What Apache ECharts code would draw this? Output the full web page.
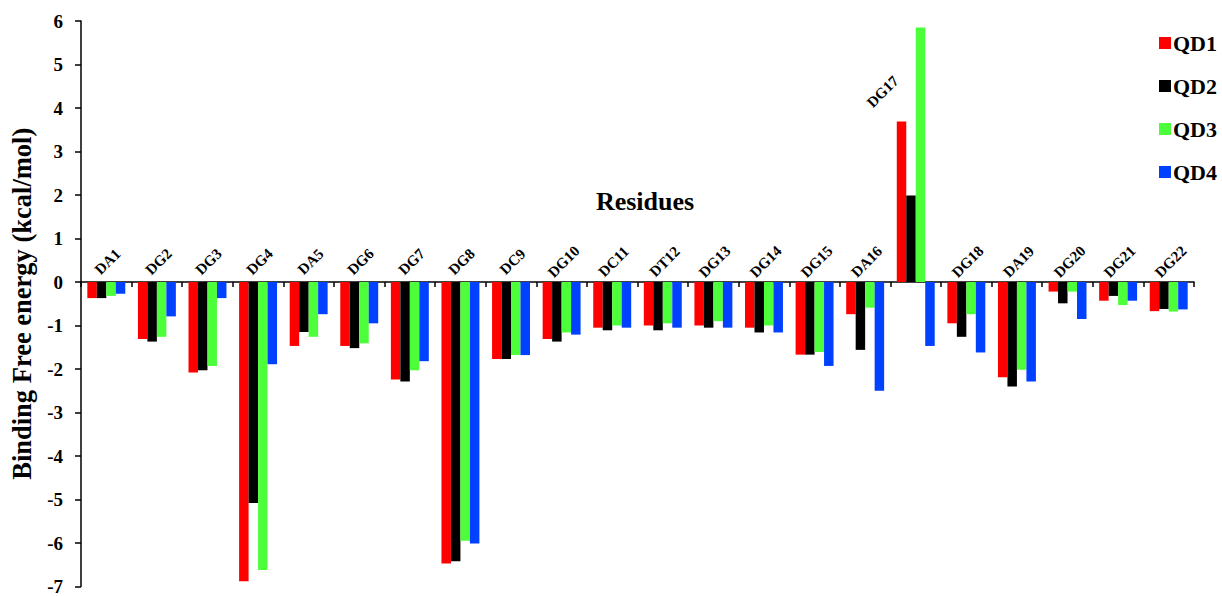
<!DOCTYPE html>
<html>
<head>
<meta charset="utf-8">
<script src="https://cdn.jsdelivr.net/npm/echarts@6/dist/echarts.min.js"></script>
<style>
html,body{margin:0;padding:0;background:#fff}
#wrap{position:relative;width:1222px;height:596px}
#c{width:1222px;height:596px}
.rl{position:absolute;white-space:nowrap;font:bold 15px 'Liberation Serif',serif;color:#000;transform:translate(-50%,-50%) rotate(-45deg);transform-origin:50% 50%;line-height:15px;pointer-events:none}
</style>
</head>
<body>
<div id="wrap"><div id="c"></div></div>
<script>
const residues = ['DA1','DG2','DG3','DG4','DA5','DG6','DG7','DG8','DC9','DG10','DC11','DT12','DG13','DG14','DG15','DA16','DG17','DG18','DA19','DG20','DG21','DG22'];
const qd1 = [-0.37,-1.31,-2.08,-6.88,-1.47,-1.47,-2.24,-6.47,-1.77,-1.31,-1.05,-1.00,-1.00,-1.05,-1.67,-0.74,3.69,-0.95,-2.19,-0.22,-0.43,-0.67];
const qd2 = [-0.37,-1.37,-2.03,-5.08,-1.15,-1.52,-2.29,-6.42,-1.77,-1.37,-1.11,-1.11,-1.05,-1.16,-1.67,-1.56,1.99,-1.26,-2.40,-0.49,-0.32,-0.62];
const qd3 = [-0.32,-1.26,-1.93,-6.62,-1.26,-1.41,-2.03,-5.95,-1.68,-1.16,-1.00,-0.95,-0.90,-1.00,-1.61,-0.59,5.85,-0.74,-2.02,-0.22,-0.53,-0.68];
const qd4 = [-0.27,-0.79,-0.37,-1.89,-0.74,-0.95,-1.82,-6.01,-1.68,-1.21,-1.05,-1.05,-1.05,-1.16,-1.93,-2.50,-1.47,-1.62,-2.29,-0.85,-0.43,-0.63];
const seriesNames = ['QD1','QD2','QD3','QD4'];
const yTicks = [-7,-6,-5,-4,-3,-2,-1,0,1,2,3,4,5,6];

const FONT = 'Liberation Serif';
const colors = ['#ff0000','#000000','#4cff3a','#0040ff'];
const allData = [qd1, qd2, qd3, qd4];

const chart = echarts.init(document.getElementById('c'), null, { renderer: 'svg' });
chart.setOption({
  animation: false,
  backgroundColor: '#fff',
  color: colors,
  title: {
    text: 'Residues',
    left: 640, top: 183,
    textAlign: 'center',
    textStyle: { fontFamily: FONT, fontWeight: 'bold', fontSize: 26, color: '#000' }
  },
  legend: {
    data: seriesNames,
    orient: 'vertical',
    right: 0, top: 27,
    itemWidth: 12, itemHeight: 12, itemGap: 21,
    icon: 'rect',
    textStyle: { fontFamily: FONT, fontWeight: 'bold', fontSize: 22, color: '#000', padding: [0,0,0,-3] }
  },
  grid: { left: 81, right: 28, top: 21, bottom: 8, containLabel: false },
  xAxis: {
    type: 'category',
    data: residues,
    axisLine: { onZero: true, lineStyle: { color: '#000', width: 1.5 } },
    axisTick: { show: true, inside: false, length: 5, lineStyle: { color: '#000', width: 1.5 } },
    axisLabel: { show: false },
    splitLine: { show: false }
  },
  yAxis: {
    type: 'value',
    min: yTicks[0], max: yTicks[yTicks.length - 1], interval: 1,
    name: 'Binding Free energy (kcal/mol)',
    nameLocation: 'middle',
    nameGap: 46,
    nameTextStyle: { fontFamily: FONT, fontWeight: 'bold', fontSize: 26.5, color: '#000' },
    axisLine: { show: true, lineStyle: { color: '#000', width: 1.5 } },
    axisTick: { show: true, length: 6, lineStyle: { color: '#000', width: 1.5 } },
    axisLabel: { margin: 18, fontFamily: FONT, fontWeight: 'bold', fontSize: 19, color: '#000' },
    splitLine: { show: false }
  },
  series: seriesNames.map((n, k) => ({
    name: n,
    type: 'bar',
    data: allData[k],
    barGap: '0%',
    barCategoryGap: '25%',
    animation: false,
    itemStyle: { color: colors[k] }
  }))
});

// residue labels: positioned through the chart's own scales, above the zero line
// (or above the QD1 bar when that bar is positive), rotated 45 degrees
const wrap = document.getElementById('wrap');
residues.forEach((r, i) => {
  const v = Math.max(0, qd1[i]);
  const pt = chart.convertToPixel({ xAxisIndex: 0, yAxisIndex: 0 }, [i, v]);
  const off = v > 0 ? [-33, -29] : [2, -20];
  const d = document.createElement('div');
  d.className = 'rl';
  d.textContent = r;
  d.style.left = (pt[0] + off[0]) + 'px';
  d.style.top = (pt[1] + off[1]) + 'px';
  wrap.appendChild(d);
});
</script>
</body>
</html>
